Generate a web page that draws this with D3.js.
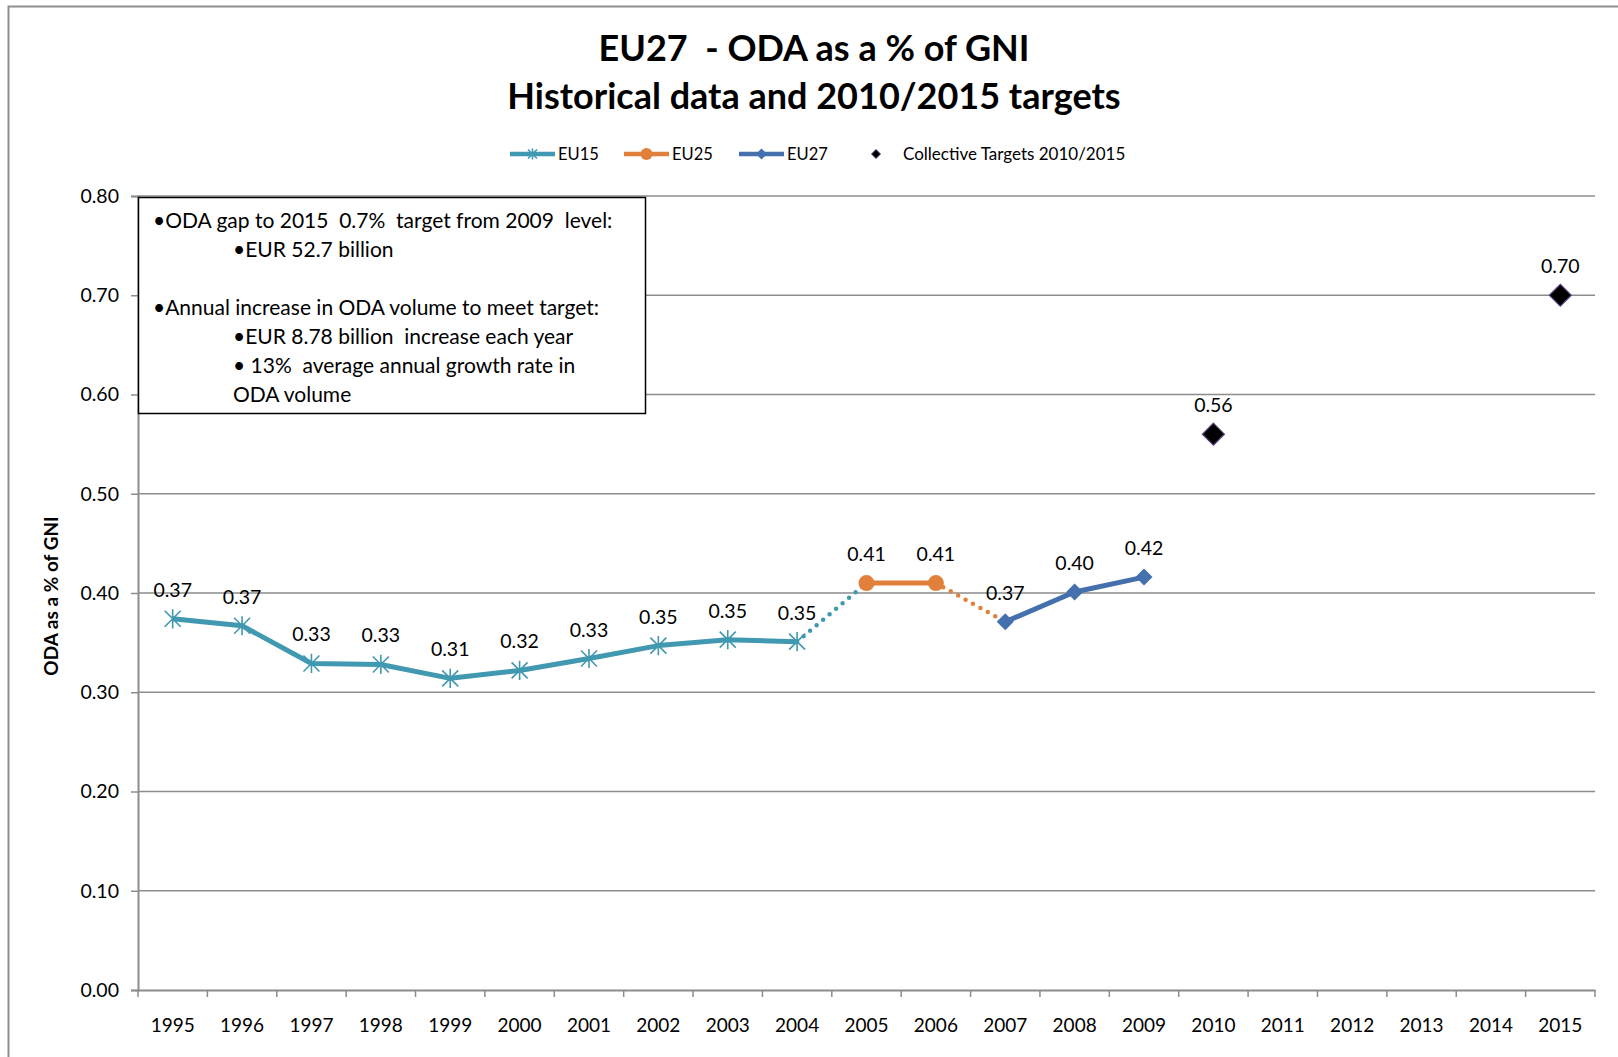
<!DOCTYPE html>
<html>
<head>
<meta charset="utf-8">
<script src="https://cdn.jsdelivr.net/npm/d3@7"></script>
<style>
  body { margin: 0; background: #fff; }
  svg text { font-family: Lato, "Open Sans", sans-serif; fill: #000; white-space: pre; }
</style>
</head>
<body>
<div id="chart"></div>
<script>
// Data
const years = d3.range(1995, 2016).map(String);
const eu15Years = ["1995", "1996", "1997", "1998", "1999", "2000", "2001", "2002", "2003", "2004"];
const eu15Values = [0.374, 0.367, 0.329, 0.328, 0.314, 0.322, 0.334, 0.347, 0.353, 0.351];
const eu25Years = ["2005", "2006"];
const eu25Values = [0.41, 0.41];
const eu27Years = ["2007", "2008", "2009"];
const eu27Values = [0.371, 0.401, 0.416];
const targetYears = ["2010", "2015"];
const targetValues = [0.56, 0.70];
const yTicks = [0, 0.1, 0.2, 0.3, 0.4, 0.5, 0.6, 0.7, 0.8];
const noteLines = [
  { text: "\u2022ODA gap to 2015  0.7%  target from 2009  level:", indent: 0, row: 0 },
  { text: "\u2022EUR 52.7 billion", indent: 1, row: 1 },
  { text: "\u2022Annual increase in ODA volume to meet target:", indent: 0, row: 3 },
  { text: "\u2022EUR 8.78 billion  increase each year", indent: 1, row: 4 },
  { text: "\u2022 13%  average annual growth rate in", indent: 1, row: 5 },
  { text: "ODA volume", indent: 1, row: 6 },
];

// Colours
const cEU15 = "#4198B1";
const cEU25 = "#E0803A";
const cEU27 = "#4470AD";
const gridColor = "#8c8c8c";

const W = 1618, H = 1057;
const margin = { top: 196, left: 138, right: 23, bottom: 67 };
const plotW = W - margin.left - margin.right;
const plotH = H - margin.top - margin.bottom;

const svg = d3.select("#chart").append("svg").attr("width", W).attr("height", H);

// outer chart border (runs off right and bottom)
svg.append("rect")
  .attr("x", 8.5).attr("y", 6.5)
  .attr("width", W + 20).attr("height", H + 20)
  .attr("fill", "none").attr("stroke", "#8f8f8f").attr("stroke-width", 2);

const x = d3.scaleBand().domain(years).range([0, plotW]);
const y = d3.scaleLinear().domain([0, 0.8]).range([plotH, 0]);
const cx = (yr) => x(yr) + x.bandwidth() / 2;

const g = svg.append("g").attr("transform", `translate(${margin.left},${margin.top})`);

// Gridlines
g.append("g").selectAll("line")
  .data(yTicks.slice(1))
  .join("line")
  .attr("x1", 0).attr("x2", plotW)
  .attr("y1", (d) => y(d)).attr("y2", (d) => y(d))
  .attr("stroke", gridColor).attr("stroke-width", 1.5);

// Y axis
const yAxis = g.append("g")
  .call(d3.axisLeft(y).tickValues(yTicks).tickFormat(d3.format(".2f")).tickSize(7).tickPadding(12));
yAxis.select(".domain").attr("stroke", gridColor).attr("stroke-width", 2);
yAxis.selectAll(".tick line").attr("stroke", gridColor).attr("stroke-width", 1.5);
yAxis.selectAll(".tick text").style("font-size", "19.5px").style("font-family", "Lato");

// X axis
const xAxis = g.append("g").attr("transform", `translate(0,${plotH})`)
  .call(d3.axisBottom(x).tickSize(0).tickPadding(29));
xAxis.select(".domain").attr("stroke", gridColor).attr("stroke-width", 2);
xAxis.selectAll(".tick text").style("font-size", "19px").style("font-family", "Lato");
// tick marks between categories
xAxis.append("g").selectAll("line")
  .data(d3.range(years.length + 1))
  .join("line")
  .attr("x1", (i) => i * x.step()).attr("x2", (i) => i * x.step())
  .attr("y1", 0).attr("y2", 7)
  .attr("stroke", gridColor).attr("stroke-width", 1.5);

// Y axis title
svg.append("text")
  .attr("transform", "translate(58,596) rotate(-90)")
  .attr("text-anchor", "middle")
  .style("font-size", "19px").style("font-weight", "bold")
  .text("ODA as a % of GNI");

// Titles
svg.append("text").attr("x", 814).attr("y", 61).attr("text-anchor", "middle")
  .style("font-size", "36px").style("font-weight", "bold").text("EU27  - ODA as a % of GNI");
svg.append("text").attr("x", 814).attr("y", 109).attr("text-anchor", "middle")
  .style("font-size", "36px").style("font-weight", "bold").text("Historical data and 2010/2015 targets");

// Lines
const line = d3.line().x((d) => cx(d[0])).y((d) => y(d[1]));
const pairs = (ys, vs) => ys.map((yr, i) => [yr, vs[i]]);
const eu15 = pairs(eu15Years, eu15Values);
const eu25 = pairs(eu25Years, eu25Values);
const eu27 = pairs(eu27Years, eu27Values);
const targets = pairs(targetYears, targetValues);

// dotted bridges between series
g.append("path").datum([eu15[eu15.length - 1], eu25[0]]).attr("d", line)
  .attr("fill", "none").attr("stroke", cEU15).attr("stroke-width", 4.5)
  .attr("stroke-linecap", "round").attr("stroke-dasharray", "0 8.5");
g.append("path").datum([eu25[eu25.length - 1], eu27[0]]).attr("d", line)
  .attr("fill", "none").attr("stroke", cEU25).attr("stroke-width", 4.5)
  .attr("stroke-linecap", "round").attr("stroke-dasharray", "0 8.5");

[[eu15, cEU15], [eu25, cEU25], [eu27, cEU27]].forEach(([data, col]) => {
  g.append("path").datum(data).attr("d", line)
    .attr("fill", "none").attr("stroke", col).attr("stroke-width", 5)
    .attr("stroke-linejoin", "round");
});

// Markers
function star(sel, col, s) {
  sel.append("path")
    .attr("d", `M${-s},${-s}L${s},${s}M${-s},${s}L${s},${-s}M0,${-s * 1.2}L0,${s * 1.2}`)
    .attr("stroke", col).attr("stroke-width", 1.6).attr("fill", "none");
}
g.append("g").selectAll("g").data(eu15).join("g")
  .attr("transform", (d) => `translate(${cx(d[0])},${y(d[1])})`)
  .each(function () { star(d3.select(this), cEU15, 8); });

g.append("g").selectAll("circle").data(eu25).join("circle")
  .attr("cx", (d) => cx(d[0])).attr("cy", (d) => y(d[1])).attr("r", 8)
  .attr("fill", cEU25);

const diamond = (s) => `M0,${-s}L${s},0L0,${s}L${-s},0Z`;
g.append("g").selectAll("path").data(eu27).join("path")
  .attr("transform", (d) => `translate(${cx(d[0])},${y(d[1])})`)
  .attr("d", diamond(8.5)).attr("fill", cEU27);

g.append("g").selectAll("path").data(targets).join("path")
  .attr("transform", (d) => `translate(${cx(d[0])},${y(d[1])})`)
  .attr("d", diamond(11)).attr("fill", "#000").attr("stroke", "#5a3f7d").attr("stroke-width", 1.2);

// Data labels
const allPts = eu15.concat(eu25, eu27, targets);
g.append("g").selectAll("text").data(allPts).join("text")
  .attr("x", (d) => cx(d[0])).attr("y", (d) => y(d[1]) - 22)
  .attr("text-anchor", "middle")
  .style("font-size", "19.5px")
  .text((d) => d3.format(".2f")(d[1]));

// Legend
const legend = svg.append("g").attr("transform", "translate(0,154)");
const legItems = [
  { name: "EU15", col: cEU15, x0: 510, type: "star" },
  { name: "EU25", col: cEU25, x0: 624, type: "circle" },
  { name: "EU27", col: cEU27, x0: 739, type: "diamond" },
];
legItems.forEach((it) => {
  const lg = legend.append("g").attr("transform", `translate(${it.x0},0)`);
  lg.append("line").attr("x1", 0).attr("x2", 45).attr("stroke", it.col).attr("stroke-width", 4.5);
  const m = lg.append("g").attr("transform", "translate(22.5,0)");
  if (it.type === "star") star(m, it.col, 4.5);
  if (it.type === "circle") m.append("circle").attr("r", 6).attr("fill", it.col);
  if (it.type === "diamond") m.append("path").attr("d", diamond(5.5)).attr("fill", it.col);
  lg.append("text").attr("x", 48).attr("y", 6).style("font-size", "16.5px").text(it.name);
});
legend.append("path").attr("transform", "translate(876,0)").attr("d", diamond(4.5))
  .attr("fill", "#000").attr("stroke", "#5a3f7d");
legend.append("text").attr("x", 903).attr("y", 6).style("font-size", "17px")
  .text("Collective Targets 2010/2015");

// Note box
const box = svg.append("g");
box.append("rect").attr("x", 138.5).attr("y", 197.5).attr("width", 507).attr("height", 216)
  .attr("fill", "#fff").attr("stroke", "#000").attr("stroke-width", 1.5);
box.selectAll("text").data(noteLines).join("text")
  .attr("x", (d) => (d.indent ? 233 : 153))
  .attr("y", (d) => 228 + d.row * 29)
  .style("font-size", "21px")
  .text((d) => d.text);
</script>
</body>
</html>
